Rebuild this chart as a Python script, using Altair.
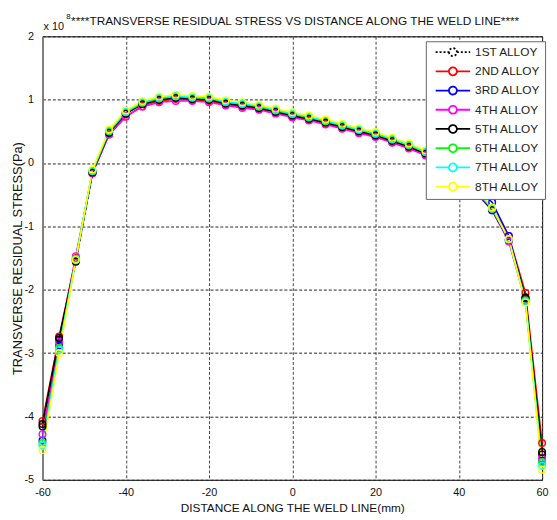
import altair as alt
import pandas as pd

# ---- data (stress values in units of 1e8 Pa) ----
x_mm = [-60, -56, -52, -48, -44, -40, -36, -32, -28, -24, -20, -16, -12, -8, -4, 0,
        4, 8, 12, 16, 20, 24, 28, 32, 36, 40, 44, 48, 52, 56, 60]

series_names = ["1ST ALLOY", "2ND ALLOY", "3RD ALLOY", "4TH ALLOY",
                "5TH ALLOY", "6TH ALLOY", "7TH ALLOY", "8TH ALLOY"]

alloy1 = [-4.16, -2.79, -1.56, -0.15, 0.48, 0.78, 0.93, 1.00, 1.03, 1.01, 1.00, 0.94, 0.91, 0.87, 0.81, 0.75,
          0.70, 0.64, 0.57, 0.50, 0.44, 0.35, 0.26, 0.16, 0.01, -0.18, -0.44, -0.73, -1.22, -2.13, -4.60]
alloy2 = [-4.07, -2.74, -1.50, -0.16, 0.45, 0.73, 0.90, 0.98, 1.01, 0.99, 0.98, 0.92, 0.89, 0.85, 0.79, 0.73,
          0.68, 0.62, 0.55, 0.48, 0.42, 0.33, 0.24, 0.13, -0.02, -0.20, -0.44, -0.72, -1.15, -2.05, -4.42]
alloy3 = [-4.38, -2.88, -1.52, -0.14, 0.49, 0.79, 0.94, 1.01, 1.04, 1.02, 1.01, 0.95, 0.92, 0.88, 0.82, 0.76,
          0.71, 0.65, 0.58, 0.51, 0.45, 0.36, 0.27, 0.16, 0.01, -0.15, -0.36, -0.62, -1.15, -2.14, -4.70]
alloy4 = [-4.28, -2.82, -1.47, -0.16, 0.45, 0.74, 0.89, 0.96, 0.98, 0.98, 0.96, 0.91, 0.87, 0.84, 0.78, 0.72,
          0.67, 0.61, 0.54, 0.47, 0.41, 0.32, 0.23, 0.12, -0.03, -0.22, -0.46, -0.75, -1.24, -2.18, -4.66]
alloy5 = [-4.12, -2.76, -1.54, -0.15, 0.48, 0.78, 0.93, 1.00, 1.03, 1.01, 1.00, 0.94, 0.91, 0.87, 0.81, 0.75,
          0.70, 0.64, 0.57, 0.50, 0.44, 0.35, 0.26, 0.15, 0.00, -0.19, -0.45, -0.74, -1.21, -2.12, -4.56]
alloy6 = [-4.42, -2.92, -1.51, -0.13, 0.50, 0.80, 0.95, 1.02, 1.05, 1.03, 1.02, 0.96, 0.93, 0.89, 0.83, 0.77,
          0.72, 0.66, 0.59, 0.52, 0.46, 0.37, 0.28, 0.17, 0.02, -0.17, -0.43, -0.72, -1.20, -2.17, -4.72]
alloy7 = [-4.46, -2.95, -1.52, -0.12, 0.51, 0.81, 0.96, 1.03, 1.06, 1.04, 1.03, 0.97, 0.94, 0.90, 0.84, 0.78,
          0.73, 0.67, 0.60, 0.53, 0.47, 0.38, 0.29, 0.18, 0.03, -0.16, -0.42, -0.72, -1.21, -2.19, -4.78]
alloy8 = [-4.53, -3.00, -1.53, -0.10, 0.53, 0.83, 0.98, 1.05, 1.08, 1.06, 1.05, 0.99, 0.96, 0.92, 0.86, 0.80,
          0.75, 0.69, 0.62, 0.55, 0.49, 0.40, 0.31, 0.20, 0.05, -0.14, -0.40, -0.70, -1.20, -2.20, -4.84]

all_series = [alloy1, alloy2, alloy3, alloy4, alloy5, alloy6, alloy7, alloy8]

x_ticks = [-60, -40, -20, 0, 20, 40, 60]
y_ticks = [-5, -4, -3, -2, -1, 0, 1, 2]

colors = ["#000000", "#ff0000", "#0000ff", "#ff00ff", "#000000", "#00ff00", "#00ffff", "#ffff00"]
dashes = [[2, 2], [1, 0], [1, 0], [1, 0], [1, 0], [1, 0], [1, 0], [1, 0]]

title_text = "****TRANSVERSE RESIDUAL STRESS VS DISTANCE ALONG THE WELD LINE****"

rows = []
for name, vals in zip(series_names, all_series):
    for xv, yv in zip(x_mm, vals):
        rows.append({"x": xv, "y": yv, "alloy": name})
df = pd.DataFrame(rows)

FONT = "Liberation Sans"
W, H = 507, 450

xscale = alt.Scale(domain=[-60, 60], nice=False, zero=False)
yscale = alt.Scale(domain=[-5, 2], nice=False, zero=False)

x_axis = alt.Axis(values=x_ticks, grid=True, gridDash=[3, 2], gridColor="#444", gridWidth=1,
                  ticks=False, domain=False, labelFont=FONT, labelFontSize=11, labelColor="#111",
                  labelPadding=7, labelFlush=False, labelOverlap=False,
                  labelExpr="'' + datum.value",
                  title="DISTANCE ALONG THE WELD LINE(mm)", titleFont=FONT, titleFontSize=12,
                  titleFontWeight="normal", titleColor="#111", titleY=28, titleBaseline="middle")
y_axis = alt.Axis(values=y_ticks, grid=True, gridDash=[3, 2], gridColor="#222", gridWidth=1,
                  ticks=False, domain=True, domainColor="#808080", domainWidth=2,
                  labelFont=FONT, labelFontSize=11, labelColor="#111", labelPadding=9,
                  labelOverlap=False, labelBound=False, labelFlush=False,
                  labelExpr="'' + datum.value",
                  title="TRANSVERSE RESIDUAL STRESS(Pa)", titleFont=FONT, titleFontSize=13,
                  titleFontWeight="normal", titleColor="#111", titleX=-25, titleY=H / 2,
                  titleAngle=270, titleAlign="center", titleBaseline="middle")

# legend symbol: line segment with an open circle, drawn to the right of the entry origin
sym_path = ("M-0.17,0L2.08,0M3.42,0L5.67,0"
            "M2.08,0A0.67,0.67,0,1,0,3.42,0A0.67,0.67,0,1,0,2.08,0")

legend = alt.Legend(title=None, orient="none", legendX=389, legendY=5,
                    fillColor="white", strokeColor="#666", padding=4,
                    symbolType=sym_path, symbolSize=144, symbolStrokeWidth=1.8,
                    symbolFillColor="transparent",
                    labelFont=FONT, labelFontSize=12, labelColor="#222", labelOffset=32,
                    rowPadding=3.5)

color_enc = alt.Color("alloy:N", sort=series_names,
                      scale=alt.Scale(domain=series_names, range=colors), legend=legend)
dash_enc = alt.StrokeDash("alloy:N", sort=series_names,
                          scale=alt.Scale(domain=series_names, range=dashes), legend=legend)

lines = alt.Chart(df).mark_line(strokeWidth=1.6).encode(
    x=alt.X("x:Q", scale=xscale, axis=x_axis),
    y=alt.Y("y:Q", scale=yscale, axis=y_axis),
    color=color_enc,
    strokeDash=dash_enc,
    detail="alloy:N",
)

points = alt.Chart(df).mark_point(filled=False, size=45, strokeWidth=1.4, opacity=1).encode(
    x=alt.X("x:Q", scale=xscale),
    y=alt.Y("y:Q", scale=yscale),
    color=alt.Color("alloy:N", sort=series_names,
                    scale=alt.Scale(domain=series_names, range=colors), legend=None),
)

title_df = pd.DataFrame({"t": [title_text]})
title_mark = alt.Chart(title_df).mark_text(font=FONT, fontSize=12, color="#111", align="left",
                                           baseline="alphabetic").encode(
    text="t:N", x=alt.value(29), y=alt.value(-12))

mult_df = pd.DataFrame({"t": ["x 10"]})
mult_mark = alt.Chart(mult_df).mark_text(font=FONT, fontSize=11, color="#111", align="left",
                                         baseline="alphabetic").encode(
    text="t:N", x=alt.value(1), y=alt.value(-6))
exp_df = pd.DataFrame({"t": ["8"]})
exp_mark = alt.Chart(exp_df).mark_text(font=FONT, fontSize=8, color="#111", align="left",
                                       baseline="alphabetic").encode(
    text="t:N", x=alt.value(24), y=alt.value(-18))

chart = alt.layer(lines, points, title_mark, mult_mark, exp_mark).properties(
    width=W, height=H,
    autosize=alt.AutoSizeParams(type="none"),
    padding={"left": 35, "top": 25, "right": 7, "bottom": 34},
    background="white",
).configure_view(stroke="black", strokeWidth=1)

chart.save("out.html", embed_options={"renderer": "svg", "actions": False})
